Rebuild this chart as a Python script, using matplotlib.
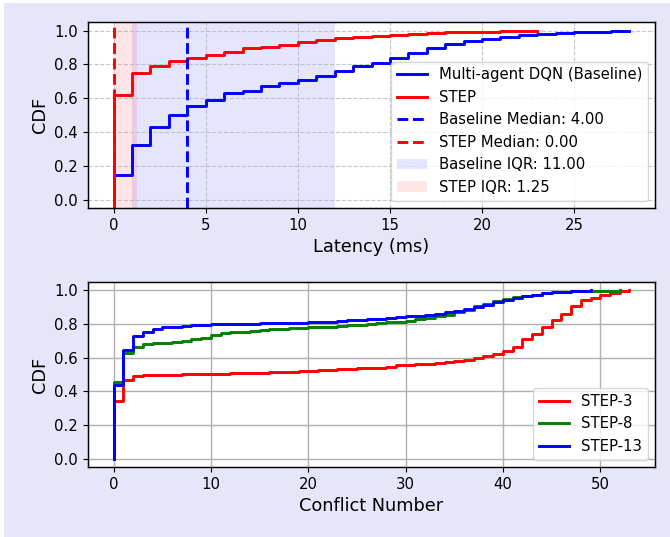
import numpy as np
import matplotlib.pyplot as plt
from matplotlib.patches import Rectangle

# ---- data: latency CDF (top panel) ----
latency_ms = list(range(0, 29))
baseline_cdf = [0.145, 0.32, 0.43, 0.50, 0.555, 0.59, 0.63, 0.645, 0.675, 0.69,
                0.71, 0.73, 0.76, 0.79, 0.81, 0.84, 0.865, 0.895, 0.92, 0.94,
                0.95, 0.965, 0.975, 0.98, 0.985, 0.99, 0.99, 0.995, 1.0]
step_latency = list(range(0, 24))
step_cdf = [0.62, 0.75, 0.79, 0.82, 0.84, 0.855, 0.875, 0.895, 0.905, 0.915,
            0.935, 0.945, 0.955, 0.965, 0.97, 0.975, 0.98, 0.985, 0.99, 0.99,
            0.992, 0.995, 0.997, 1.0]
baseline_median = 4.0
step_median = 0.0
baseline_q = (1.0, 12.0)
step_q = (0.0, 1.25)

# ---- data: conflict number CDF (bottom panel) ----
conflicts_3 = list(range(0, 54))
cdf_3 = [0.345, 0.465, 0.49, 0.495, 0.497, 0.50, 0.50, 0.501, 0.502, 0.503,
         0.505, 0.506, 0.507, 0.508, 0.51, 0.512, 0.514, 0.516, 0.518, 0.519,
         0.52, 0.525, 0.53, 0.532, 0.534, 0.536, 0.538, 0.54, 0.545, 0.555,
         0.557, 0.56, 0.563, 0.566, 0.575, 0.58, 0.588, 0.60, 0.61, 0.625,
         0.64, 0.665, 0.71, 0.74, 0.78, 0.825, 0.86, 0.91, 0.94, 0.955,
         0.97, 0.985, 0.995, 1.0]
conflicts_8 = list(range(0, 53))
cdf_8 = [0.455, 0.63, 0.665, 0.68, 0.685, 0.69, 0.695, 0.70, 0.71, 0.72,
         0.735, 0.745, 0.75, 0.755, 0.76, 0.765, 0.77, 0.773, 0.776, 0.778,
         0.78, 0.782, 0.785, 0.788, 0.792, 0.795, 0.80, 0.805, 0.81, 0.815,
         0.82, 0.827, 0.835, 0.845, 0.855, 0.87, 0.885, 0.905, 0.92, 0.935,
         0.95, 0.958, 0.965, 0.975, 0.985, 0.99, 0.992, 0.995, 0.997, 0.998,
         0.999, 0.999, 1.0]
conflicts_13 = list(range(0, 50))
cdf_13 = [0.44, 0.645, 0.73, 0.755, 0.77, 0.78, 0.785, 0.79, 0.795, 0.797,
          0.80, 0.80, 0.801, 0.802, 0.803, 0.805, 0.806, 0.807, 0.808, 0.809,
          0.81, 0.812, 0.815, 0.818, 0.822, 0.825, 0.828, 0.832, 0.835, 0.84,
          0.845, 0.85, 0.855, 0.86, 0.87, 0.88, 0.89, 0.90, 0.915, 0.93,
          0.945, 0.955, 0.965, 0.975, 0.985, 0.99, 0.993, 0.995, 0.998, 1.0]

plt.rcParams['xtick.labelsize'] = 10.7
plt.rcParams['ytick.labelsize'] = 10.7
plt.rcParams['axes.linewidth'] = 1.05


def cdf_step(ax, x, y, **kw):
    # start every curve at (0, 0) so the first jump is drawn
    ax.plot([x[0]] + list(x), [0.0] + list(y), drawstyle='steps-post', **kw)


fig = plt.figure(figsize=(6.7, 5.37), dpi=100, facecolor='white')
fig.patches.append(Rectangle((0.006, 0.0), 0.994, 0.995, transform=fig.transFigure,
                             facecolor='lavender', edgecolor='none', zorder=-10))

# ---- top panel ----
ax1 = fig.add_axes([0.131, 0.6127, 0.847, 0.346])
cdf_step(ax1, latency_ms, baseline_cdf, color='blue', lw=2.1, label='Multi-agent DQN (Baseline)')
cdf_step(ax1, step_latency, step_cdf, color='red', lw=2.1, label='STEP')
ax1.axvline(baseline_median, color='blue', ls='--', lw=2.1,
            label=f'Baseline Median: {baseline_median:.2f}')
ax1.axvline(step_median, color='red', ls='--', lw=2.1,
            label=f'STEP Median: {step_median:.2f}')
ax1.axvspan(baseline_q[0], baseline_q[1], color='blue', alpha=0.1, lw=0,
            label=f'Baseline IQR: {baseline_q[1] - baseline_q[0]:.2f}')
ax1.axvspan(step_q[0], step_q[1], color='red', alpha=0.1, lw=0,
            label=f'STEP IQR: {step_q[1] - step_q[0]:.2f}')
ax1.set_xlim(-1.4, 29.4)
ax1.set_ylim(-0.05, 1.05)
ax1.set_xlabel('Latency (ms)', fontsize=12.8)
ax1.set_ylabel('CDF', fontsize=12.8)
ax1.grid(True, linestyle='--', alpha=0.7)
ax1.legend(loc='lower right', fontsize=10.7)

# ---- bottom panel ----
ax2 = fig.add_axes([0.131, 0.130, 0.847, 0.345])
cdf_step(ax2, conflicts_3, cdf_3, color='red', lw=2.1, label='STEP-3')
cdf_step(ax2, conflicts_8, cdf_8, color='green', lw=2.1, label='STEP-8')
cdf_step(ax2, conflicts_13, cdf_13, color='blue', lw=2.1, label='STEP-13')
ax2.set_xlim(-2.65, 55.65)
ax2.set_ylim(-0.05, 1.05)
ax2.set_xlabel('Conflict Number', fontsize=12.8)
ax2.set_ylabel('CDF', fontsize=12.8)
ax2.grid(True, lw=1)
ax2.legend(loc='lower right', fontsize=10.7)

fig.savefig('out.png', dpi=100, facecolor=fig.get_facecolor())
